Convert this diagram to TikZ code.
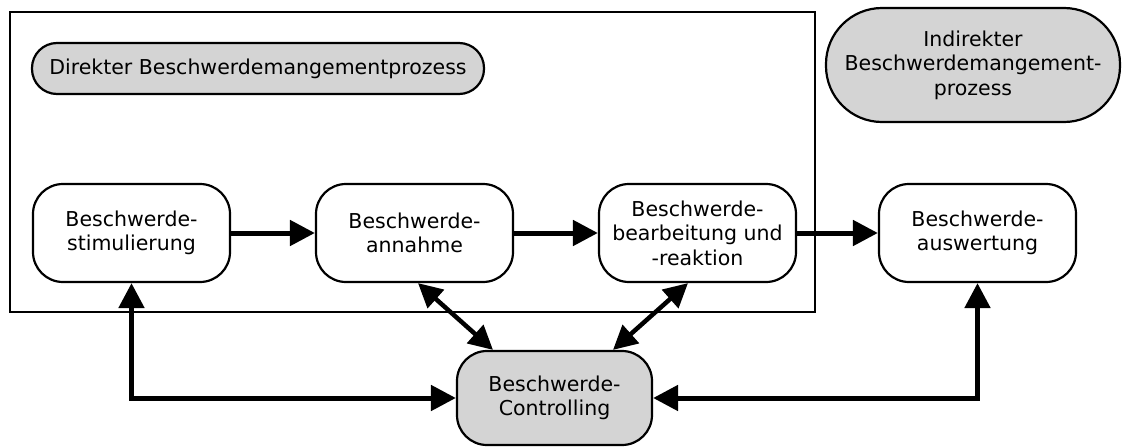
\documentclass[tikz,border=0pt]{standalone}
\usepackage{fontspec}
\setmainfont{DejaVu Sans}
\usetikzlibrary{arrows.meta}
\definecolor{pillgray}{RGB}{212,212,212}
\begin{document}
\begin{tikzpicture}[x=1pt,y=-1pt,
  txt/.style={font=\fontsize{20.5}{24.5}\selectfont, align=center, inner sep=0pt},
  procbox/.style={txt, draw=black, line width=2.2pt, rounded corners=30pt, fill=white,
    minimum width=197pt, minimum height=98pt},
  ctrlbox/.style={procbox, fill=pillgray, minimum width=195pt, minimum height=94pt},
  pill/.style={txt, draw=black, line width=2.2pt, fill=pillgray},
  flow/.style={line width=5pt, -{Triangle[length=25pt,width=25pt]}},
  both/.style={line width=5pt, {Triangle[length=25pt,width=25pt]}-{Triangle[length=25pt,width=25pt]}},
  diag/.style={line width=4.5pt, {Triangle[length=24pt,width=24pt]}-{Triangle[length=24pt,width=24pt]}}
]
\useasboundingbox (0,0) rectangle (1128,447);
\node[draw=black, line width=2.2pt, minimum width=805pt, minimum height=300pt, inner sep=0pt] (frame) at (412.5,162) {};
\node[pill, rounded corners=25pt, minimum width=452pt, minimum height=51pt] (direkt) at (258,68.5) {Direkter Beschwerdemangementprozess};
\node[pill, rounded corners=56pt, minimum width=294pt, minimum height=114pt] (indirekt) at (973,65) {Indirekter\\Beschwerdemangement-\\prozess};
\node[procbox] (stim) at (131.5,233) {Beschwerde-\\stimulierung};
\node[procbox] (ann) at (414.5,233) {Beschwerde-\\annahme};
\node[procbox] (bear) at (697.5,233) {Beschwerde-\\bearbeitung und\\-reaktion};
\node[procbox] (ausw) at (977.5,233) {Beschwerde-\\auswertung};
\node[ctrlbox] (ctrl) at (554.5,398) {Beschwerde-\\Controlling};
\draw[flow] (stim) -- (ann);
\draw[flow] (ann) -- (bear);
\draw[flow] (bear) -- (ausw);
\draw[both] (stim.south) |- (ctrl.west);
\draw[both] (ausw.south) |- (ctrl.east);
\draw[diag] ([xshift=3.5pt]ann.south) -- ([xshift=-61.5pt]ctrl.north);
\draw[diag] ([xshift=-9.5pt]bear.south) -- ([xshift=58.5pt]ctrl.north);
\end{tikzpicture}
\end{document}
